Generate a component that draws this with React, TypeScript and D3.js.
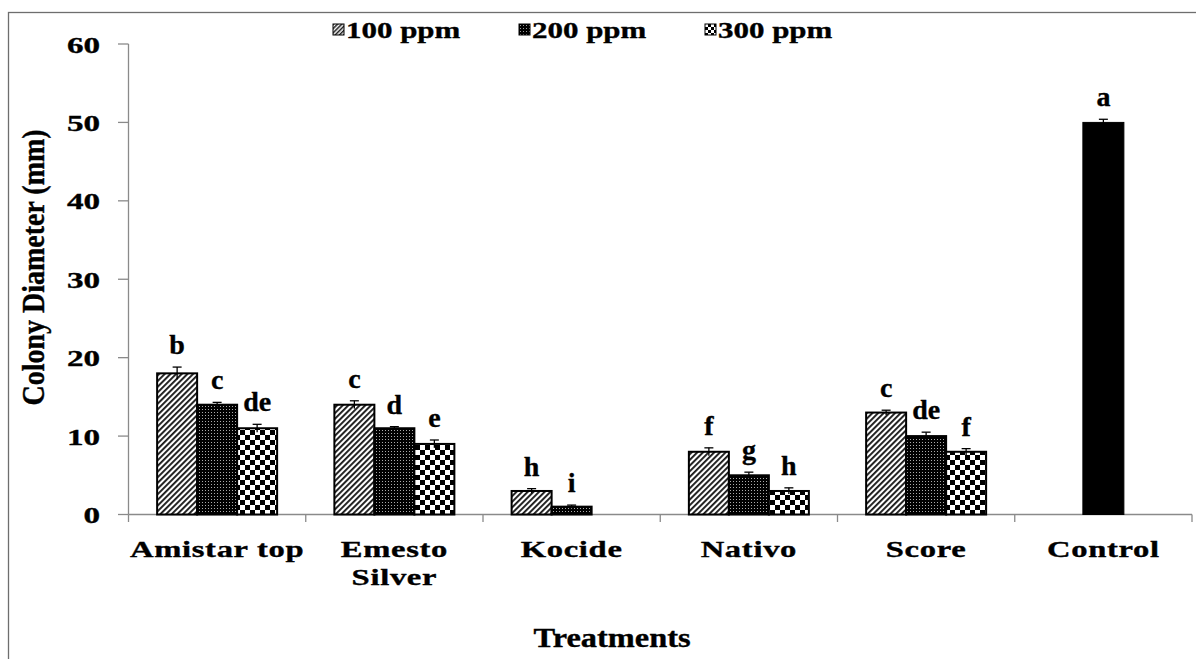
import React from "react";
import * as d3 from "d3";

const categories = ["Amistar top", "Emesto Silver", "Kocide", "Nativo", "Score", "Control"];
const categoryLines = [["Amistar top"], ["Emesto", "Silver"], ["Kocide"], ["Nativo"], ["Score"], ["Control"]];
const seriesNames = ["100 ppm", "200 ppm", "300 ppm"];
const treated = ["Amistar top", "Emesto Silver", "Kocide", "Nativo", "Score"];
const values100 = [18, 14, 3, 8, 13];
const values200 = [14, 11, 1, 5, 10];
const values300 = [11, 9, 0, 3, 8];
const errors100 = [0.8, 0.5, 0.3, 0.5, 0.3];
const errors200 = [0.3, 0.2, 0.2, 0.4, 0.5];
const errors300 = [0.5, 0.5, 0, 0.4, 0.4];
const letters100 = ["b", "c", "h", "f", "c"];
const letters200 = ["c", "d", "i", "g", "de"];
const letters300 = ["de", "e", "", "h", "f"];
const controlValue = 50;
const controlError = 0.4;
const controlLetter = "a";
const yTicks = [0, 10, 20, 30, 40, 50, 60];

const FONT = "'Liberation Serif', 'Times New Roman', serif";
const HEAVY = { stroke: "#000", strokeWidth: 0.35 };

export default function App() {
  const y = d3.scaleLinear().domain([0, 60]).range([514.5, 44]);
  const x = d3.scaleBand<string>().domain(categories).range([128.5, 1192]);
  const inner = d3.scaleBand<string>().domain(seriesNames).range([-60, 60]);
  const fills = ["url(#hatch)", "url(#dots)", "url(#checker)"];
  const legendFills = ["url(#hatchS)", "url(#dotsS)", "url(#checkerS)"];
  const vals = [values100, values200, values300];
  const errs = [errors100, errors200, errors300];
  const lets = [letters100, letters200, letters300];
  const bw = inner.bandwidth();

  const bars: any[] = [];
  treated.forEach((cat, ci) => {
    const cx = (x(cat) as number) + x.bandwidth() / 2;
    seriesNames.forEach((s, si) => {
      const v = vals[si][ci];
      if (!v) return;
      const bx = cx + (inner(s) as number);
      const top = y(v);
      const e = errs[si][ci];
      const capTop = y(v + e);
      const mid = bx + bw / 2;
      bars.push(
        <g key={cat + s}>
          <rect x={bx} y={top} width={bw} height={y(0) - top} fill={fills[si]} stroke="#000" strokeWidth={2} />
          <line x1={mid} x2={mid} y1={capTop} y2={y(v - e)} stroke="#000" strokeWidth={1.3} />
          <line x1={mid - 4.5} x2={mid + 4.5} y1={capTop} y2={capTop} stroke="#000" strokeWidth={1.3} />
          <text x={mid} y={capTop - 13} textAnchor="middle" fontFamily={FONT} fontWeight="bold" fontSize={28} {...HEAVY}>
            {lets[si][ci]}
          </text>
        </g>
      );
    });
  });

  const ccx = (x("Control") as number) + x.bandwidth() / 2;
  const cTop = y(controlValue);
  const cCap = y(controlValue + controlError);

  const step = x.step();
  const xTickPos = d3.range(categories.length + 1).map((i) => 128.5 + i * step);

  return (
    <div style={{ position: "absolute", left: 0, top: 0 }}>
      <svg width={1196} height={659} style={{ display: "block", background: "#fff" }}>
        <defs>
          <pattern id="hatch" width={4} height={4} patternUnits="userSpaceOnUse" patternTransform="rotate(45)">
            <rect width={4} height={4} fill="#fff" />
            <rect width={1.9} height={4} fill="#1a1a1a" />
          </pattern>
          <pattern id="dots" width={3} height={3} patternUnits="userSpaceOnUse">
            <rect width={3} height={3} fill="#000" />
            <rect x={1} y={1} width={1} height={1} fill="#aaa" />
          </pattern>
          <pattern id="checker" width={10} height={10} patternUnits="userSpaceOnUse">
            <rect width={10} height={10} fill="#fff" />
            <rect width={5} height={5} fill="#000" />
            <rect x={5} y={5} width={5} height={5} fill="#000" />
          </pattern>
          <pattern id="hatchS" width={3} height={3} patternUnits="userSpaceOnUse" patternTransform="rotate(45)">
            <rect width={3} height={3} fill="#fff" />
            <rect width={1.5} height={3} fill="#1a1a1a" />
          </pattern>
          <pattern id="dotsS" width={3} height={3} patternUnits="userSpaceOnUse">
            <rect width={3} height={3} fill="#000" />
            <rect x={1} y={1} width={1} height={1} fill="#999" />
          </pattern>
          <pattern id="checkerS" width={6} height={6} patternUnits="userSpaceOnUse">
            <rect width={6} height={6} fill="#fff" />
            <rect width={3} height={3} fill="#000" />
            <rect x={3} y={3} width={3} height={3} fill="#000" />
          </pattern>
        </defs>

        {/* frame */}
        <rect x={8.5} y={12.5} width={1300} height={800} fill="none" stroke="#6e6e6e" strokeWidth={1.3} />

        {/* y axis */}
        <line x1={128.5} x2={128.5} y1={y(60)} y2={y(0)} stroke="#8a8a8a" strokeWidth={1.3} />
        {yTicks.map((t) => (
          <g key={t}>
            <line x1={118} x2={128.5} y1={y(t)} y2={y(t)} stroke="#8a8a8a" strokeWidth={1.3} />
            <text
              transform={`translate(100,${y(t) + 8.5}) scale(1.38,1)`}
              textAnchor="end"
              fontFamily={FONT}
              fontWeight="bold"
              fontSize={24}
              {...HEAVY}
            >
              {t}
            </text>
          </g>
        ))}

        {/* x axis */}
        <line x1={128.5} x2={1192} y1={y(0)} y2={y(0)} stroke="#8a8a8a" strokeWidth={1.3} />
        {xTickPos.map((p, i) => (
          <line key={i} x1={p} x2={p} y1={y(0)} y2={y(0) + 7.5} stroke="#8a8a8a" strokeWidth={1.3} />
        ))}

        {bars}

        {/* control */}
        <rect x={ccx - 20.5} y={cTop} width={41} height={y(0) - cTop} fill="#000" stroke="#000" strokeWidth={1} />
        <line x1={ccx} x2={ccx} y1={cCap} y2={cTop + 3} stroke="#000" strokeWidth={1.3} />
        <line x1={ccx - 4.5} x2={ccx + 4.5} y1={cCap} y2={cCap} stroke="#000" strokeWidth={1.3} />
        <text x={ccx} y={cCap - 13} textAnchor="middle" fontFamily={FONT} fontWeight="bold" fontSize={28} {...HEAVY}>
          {controlLetter}
        </text>

        {/* category labels */}
        {categories.map((c, i) => {
          const cx = (x(c) as number) + x.bandwidth() / 2;
          return categoryLines[i].map((ln, li) => (
            <text
              key={c + li}
              transform={`translate(${cx},${557 + li * 28}) scale(1.36,1)`}
              textAnchor="middle"
              fontFamily={FONT}
              fontWeight="bold"
              fontSize={24}
              letterSpacing={0.5}
              {...HEAVY}
            >
              {ln}
            </text>
          ));
        })}

        {/* axis titles */}
        <text
          transform="translate(612,647) scale(1.2,1)"
          textAnchor="middle"
          fontFamily={FONT}
          fontWeight="bold"
          fontSize={27}
          {...HEAVY}
        >
          Treatments
        </text>
        <text
          transform="translate(44,267.5) scale(1.15,1) rotate(-90)"
          textAnchor="middle"
          fontFamily={FONT}
          fontWeight="bold"
          fontSize={28}
          {...HEAVY}
        >
          Colony Diameter (mm)
        </text>

        {/* legend */}
        {seriesNames.map((s, i) => {
          const lx = [333, 519, 705][i];
          return (
            <g key={s}>
              <rect x={lx} y={24} width={11} height={11} fill={legendFills[i]} stroke="#000" strokeWidth={1} />
              <text
                transform={`translate(${lx + 13},38) scale(1.29,1)`}
                fontFamily={FONT}
                fontWeight="bold"
                fontSize={24}
                {...HEAVY}
              >
                {s}
              </text>
            </g>
          );
        })}
      </svg>
    </div>
  );
}
